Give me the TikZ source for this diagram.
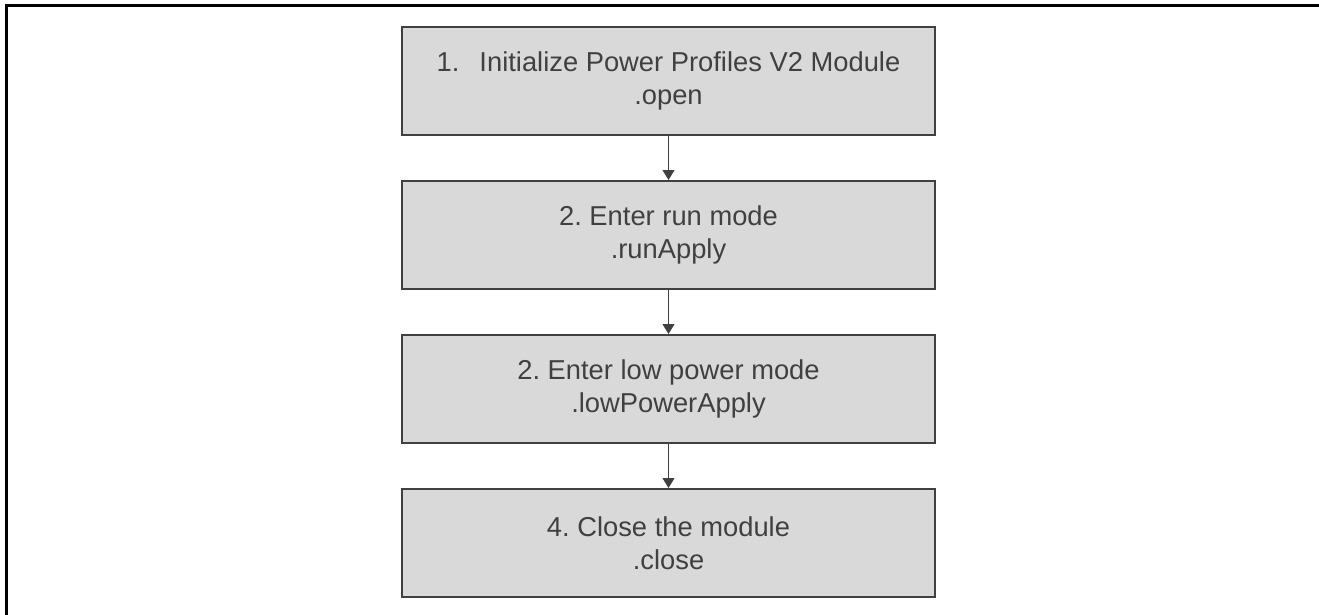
\documentclass[tikz,border=0pt]{standalone}
\usepackage{fontspec}
\setmainfont{Liberation Sans}
\usepackage{tikz}
\usetikzlibrary{arrows.meta}
\usetikzlibrary{positioning}
\frenchspacing

\begin{document}
\begin{tikzpicture}[x=0.75pt, y=-0.75pt]
\tikzset{font=\fontsize{20.5}{24.75}\selectfont}
\tikzset{node distance=33pt}
\tikzset{stepbox/.style={draw=black!75, line width=1.5pt, fill=black!15, text=black!75, align=center, minimum width=400pt, minimum height=81pt, inner sep=0pt}}
\tikzset{flow/.style={draw=black!75, line width=0.75pt, -{Triangle[width=9pt, length=7.5pt]}}}
\useasboundingbox (0,0) rectangle (1319,614);
\draw[line width=2.25pt] (6.5,640) |- (1340,5);
\node[stepbox] (init) at (668.5,81) {1.\hspace{15pt}Initialize Power Profiles V2 Module\\.open};
\node[stepbox, below=of init] (run) {2. Enter run mode\\.runApply};
\node[stepbox, below=of run] (lowpower) {2. Enter low power mode\\.lowPowerApply};
\node[stepbox, below=of lowpower] (close) {4. Close the module\\.close};
\draw[flow] (init) -- (run);
\draw[flow] (run) -- (lowpower);
\draw[flow] (lowpower) -- (close);
\end{tikzpicture}
\end{document}
